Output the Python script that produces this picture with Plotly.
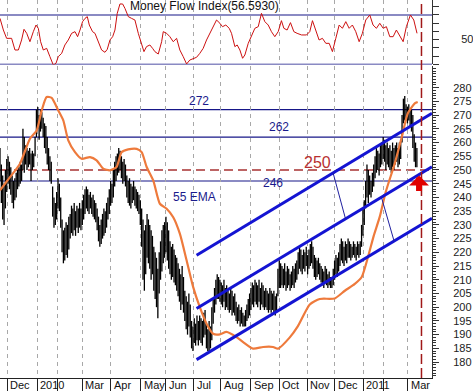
import plotly.graph_objects as go

# ---------------- data ----------------
day_high = [
    258, 252, 248, 245, 250, 254, 255, 253, 251, 248,
    246, 247, 249, 250, 251, 253, 252, 265, 262, 259,
    258, 257, 258, 256, 257, 256, 262, 272, 273, 270,
    272, 271, 269, 267, 266, 262, 258, 255, 253, 244,
    240, 238, 242, 247, 245, 240, 232, 228, 229, 231,
    230, 233, 234, 237, 236, 238, 235, 237, 236, 238,
    236, 239, 241, 243, 244, 243, 241, 242, 240, 241,
    239, 238, 236, 233, 230, 232, 234, 236, 235, 238,
    240, 243, 246, 245, 250, 253, 255, 256, 258, 257,
    255, 253, 254, 252, 248, 246, 247, 245, 244, 246,
    244, 243, 242, 241, 239, 236, 232, 228, 230, 234,
    232, 230, 228, 226, 222, 220, 218, 214, 220, 224,
    228, 230, 231, 233, 231, 228, 224, 222, 223, 221,
    219, 218, 216, 214, 212, 215, 211, 206, 204, 202,
    205, 201, 195, 193, 196, 194, 197, 195, 197, 196,
    195, 198, 199, 194, 192, 195, 193, 200, 203, 207,
    210, 212, 211, 210, 209, 208, 210, 207, 208, 206,
    205, 207, 206, 204, 205, 202, 200, 201, 199, 200,
    198, 197, 199, 201, 203, 205, 207, 209, 208, 210,
    209, 208, 210, 207, 209, 208, 206, 207, 206, 205,
    207, 206, 205, 206, 204, 205, 214, 217, 216, 215,
    214, 216, 213, 215, 214, 212, 213, 215, 214, 216,
    217, 220, 222, 221, 219, 221, 220, 222, 219, 221,
    223, 224, 222, 219, 218, 217, 218, 216, 215, 214,
    213, 215, 214, 212, 213, 211, 210, 214, 217, 219,
    218, 220, 223, 225, 224, 222, 224, 223, 225, 224,
    223, 222, 224, 223, 222, 224, 223, 224, 230, 236,
    239, 246, 252, 250, 248, 246, 249, 252, 255, 258,
    257, 256, 259, 260, 262, 261, 259, 260, 258, 259,
    257, 260, 258, 259, 260, 258, 260, 261, 270, 276,
    277, 274, 273, 274, 272, 272, 270, 263, 260, 258,
]
day_low = [
    246, 238, 232, 230, 236, 242, 245, 243, 241, 238,
    236, 239, 240, 243, 244, 245, 246, 250, 249, 252,
    250, 251, 252, 246, 250, 251, 255, 262, 265, 261,
    264, 265, 262, 258, 256, 252, 250, 246, 245, 233,
    229, 230, 232, 236, 235, 229, 220, 216, 217, 219,
    218, 221, 225, 227, 226, 228, 226, 229, 227, 229,
    228, 230, 232, 234, 236, 235, 234, 236, 234, 233,
    232, 231, 228, 224, 222, 223, 225, 226, 227, 229,
    232, 234, 237, 238, 240, 244, 246, 248, 249, 250,
    247, 245, 246, 244, 240, 238, 237, 236, 238, 239,
    237, 236, 235, 234, 230, 222, 210, 206, 212, 218,
    216, 214, 210, 212, 206, 203, 200, 196, 205, 210,
    213, 216, 218, 220, 217, 214, 212, 210, 211, 209,
    208, 206, 204, 202, 199, 201, 198, 195, 192, 190,
    193, 189, 185, 184, 187, 186, 188, 186, 188, 187,
    186, 189, 190, 185, 184, 184, 185, 188, 194, 198,
    201, 203, 203, 202, 201, 200, 202, 199, 200, 199,
    198, 199, 197, 198, 197, 195, 194, 195, 193, 194,
    193, 193, 193, 195, 196, 197, 199, 201, 200, 202,
    201, 200, 202, 199, 201, 200, 199, 200, 199, 198,
    199, 198, 199, 198, 197, 198, 204, 207, 207, 208,
    207, 208, 206, 207, 208, 206, 207, 208, 207, 209,
    210, 212, 214, 213, 212, 214, 213, 215, 212, 214,
    215, 216, 214, 211, 210, 211, 212, 210, 209, 208,
    207, 209, 208, 207, 208, 207, 207, 208, 210, 212,
    211, 213, 215, 217, 216, 215, 217, 216, 218, 218,
    217, 218, 219, 218, 217, 219, 218, 219, 222, 226,
    230, 236, 240, 238, 241, 240, 242, 244, 247, 249,
    250, 248, 251, 252, 254, 253, 250, 252, 251, 250,
    249, 251, 250, 252, 253, 251, 252, 254, 260, 267,
    268, 268, 267, 268, 266, 264, 258, 253, 251, 251,
]

ema_day = [0, 7.4, 14.8, 22.2, 27.2, 30.9, 34.6, 38.3, 43.2, 46.9, 50.6, 55.6,
           60.5, 66.7, 71.6, 76.5, 81.5, 86.4, 90.1, 95, 101.3, 105, 108.7,
           113.6, 118.5, 123.5, 128.4, 133.3, 138.3, 143.2, 148.1, 153.1, 158,
           163, 167.9, 175.3, 180.2, 187.6, 195, 202.4, 206.1, 214.8, 220.7,
           229.6, 237, 248.1, 255.6, 263, 268.1, 272.6, 277, 281.5, 285.9,
           292.6, 297.8, 302.2, 307.4, 309.6]
ema_val = [242.6, 247.4, 252.3, 261.4, 264.4, 271.7, 276.6, 276.3, 271.7, 268.1,
           260.8, 256.5, 254.1, 254.7, 253.5, 250.5, 249.9, 251.1, 256.5, 257.5,
           257.7, 256.5, 251.1, 246.2, 237.7, 235.9, 232.8, 226.8, 217.1, 207.3,
           200.0, 194.0, 190.3, 190.1, 191.0, 189.1, 187.3, 184.9, 185.5, 185.5,
           184.9, 189.0, 193.0, 201.0, 203.0, 203.2, 206.0, 208.5, 211.0, 218.0,
           226.0, 233.0, 242.0, 252.4, 262.0, 270.6, 274.3, 274.8]

mfi_day = [0, 2.5, 4.9, 8.6, 11.1, 13.6, 16.0, 17.8, 19.8, 22.2, 24.7, 26.7, 28.4,
           30.1, 32.1, 34.6, 37.0, 39.5, 41.5, 43.2, 45.7, 48.1, 50.6, 53.1, 55.6,
           57.5, 59.3, 61.2, 63.0, 64.7, 66.2, 68.6, 70.4, 72.8, 75.3, 77.8, 79.5,
           81.5, 83.5, 85.2, 86.9, 88.9, 90.9, 92.6, 95.1, 97.5, 100.0, 102.5,
           104.9, 106.7, 108.6, 111.1, 113.1, 114.8, 117.3, 119.8, 121.0, 123.5,
           125.9, 128.4, 130.9, 133.3, 135.8, 138.3, 140.7, 143.2, 145.7, 148.1,
           150.6, 153.1, 155.6, 158.0, 160.5, 163.0, 164.9, 167.4, 169.9, 171.6,
           174.1, 175.8, 177.8, 179.8, 181.5, 184.0, 186.4, 188.9, 191.4, 193.8,
           196.3, 198.8, 201.2, 203.7, 206.2, 208.6, 210.4, 212.8, 215.3, 217.8,
           220.2, 223.5, 227.2, 229.6, 231.6, 234.1, 236.5, 239.0, 241.5, 244.0,
           246.4, 248.9, 251.4, 253.8, 256.3, 258.8, 261.2, 263.7, 266.2, 268.6,
           271.1, 274.1, 276.5, 279.0, 281.5, 284.0, 286.4, 288.9, 291.4, 293.8,
           296.3, 298.8, 301.2, 304.2, 306.7, 309.1]
mfi_val = [75.9, 61.7, 51.6, 51.6, 37.4, 37.4, 49.6, 62.6, 57.7, 47.5, 59.7, 67.8,
           63.8, 47.5, 37.4, 39.4, 29.3, 19.1, 21.2, 29.3, 33.3, 43.5, 49.6, 57.7,
           59.7, 53.6, 61.7, 71.9, 75.9, 78.0, 67.8, 59.7, 57.7, 47.5, 37.4, 34.6,
           38.2, 49.6, 53.6, 61.7, 82.0, 93.4, 93.4, 88.1, 78.0, 75.9, 73.9, 57.7,
           45.5, 35.4, 41.5, 43.5, 39.4, 35.4, 32.5, 47.5, 59.7, 57.7, 53.6, 47.5,
           51.6, 37.4, 29.3, 20.4, 25.2, 27.3, 28.5, 33.3, 39.4, 49.6, 57.7, 63.8,
           73.9, 69.9, 65.8, 67.8, 63.8, 57.7, 41.5, 43.5, 37.4, 27.3, 31.3, 45.5,
           53.6, 63.8, 65.8, 82.0, 71.9, 67.8, 59.7, 53.6, 59.7, 73.1, 63.8, 61.7,
           70.7, 59.7, 57.7, 55.7, 55.7, 59.7, 73.1, 61.7, 49.6, 51.6, 45.5, 45.5,
           35.4, 51.6, 67.8, 63.8, 71.9, 63.8, 67.8, 59.7, 47.5, 57.7, 73.9, 80.0,
           67.8, 63.8, 69.9, 63.8, 65.8, 53.6, 53.6, 61.7, 53.6, 47.5, 65.8, 80.0,
           73.9, 57.7]

month_day = [5.4, 27.6, 42.4, 61.0, 82.2, 104.2, 122.7, 143.7, 163.7, 185.7,
             206.9, 227.6, 248.1, 269.1, 283.9, 302.4]
month_label = ["Dec", "2010", "", "Mar", "Apr", "May", "Jun", "Jul", "Aug",
               "Sep", "Oct", "Nov", "Dec", "2011", "", "Mar"]

price_ticks = list(range(180, 281, 5))
mfi_ticks = [20, 30, 40, 50, 60, 70, 80, 90]
mfi_ticktext = ["", "", "", "50", "", "", "", ""]

h_levels = [272, 262, 246]
dash_level = 250
mfi_levels = [80, 20]

channel_day = [145.7, 320.2]
channel_upper = [218.9, 270.7]
channel_mid = [199.5, 251.2]
channel_low = [180.9, 232.4]
link1_day = [246.9, 256.1]
link1_val = [248.9, 232.2]
link2_day = [282.7, 292.1]
link2_val = [240.1, 224.1]

marker_day = 312.4
arrow_day = 310.6
arrow_tip = 248.0

label_text = ["272", "262", "250", "246", "55 EMA"]
label_day = [147.4, 206.9, 235.3, 202.0, 144.4]
label_val = [275.1, 265.6, 252.9, 245.2, 240.1]
label_color = ["#1a1a8c", "#1a1a8c", "#b83030", "#1a1a8c", "#1a1a8c"]
label_size = [12, 12, 16, 12, 12]

# ---------------- figure ----------------
NAVY = "#161688"
FONT = "Arial"

fig = go.Figure()

# price bars (high-low)
bx, by = [], []
for i, (hi, lo) in enumerate(zip(day_high, day_low)):
    bx += [i, i, None]
    by += [lo, hi, None]
fig.add_trace(go.Scatter(x=bx, y=by, mode="lines", line=dict(color="black", width=1.3),
                         hoverinfo="skip", showlegend=False))

# EMA
fig.add_trace(go.Scatter(x=ema_day, y=ema_val, mode="lines",
                         line=dict(color="#ee7a3c", width=2.2, shape="spline", smoothing=0.6),
                         showlegend=False))

# channels
for vals in (channel_upper, channel_mid, channel_low):
    fig.add_trace(go.Scatter(x=channel_day, y=vals, mode="lines",
                             line=dict(color="#1414d2", width=3), showlegend=False))
for dx, dv in ((link1_day, link1_val), (link2_day, link2_val)):
    fig.add_trace(go.Scatter(x=dx, y=dv, mode="lines",
                             line=dict(color="#2020a0", width=1), showlegend=False))

# MFI
fig.add_trace(go.Scatter(x=mfi_day, y=mfi_val, mode="lines", yaxis="y2",
                         line=dict(color="#cc1010", width=1), showlegend=False))

shapes = []
for lv in h_levels:
    shapes.append(dict(type="line", xref="paper", x0=0, x1=1, yref="y", y0=lv, y1=lv,
                       line=dict(color=NAVY, width=1.2), layer="below"))
shapes.append(dict(type="line", xref="paper", x0=0, x1=1, yref="y", y0=dash_level, y1=dash_level,
                   line=dict(color="#a83232", width=1.5, dash="9px,5px"), layer="below"))
for lv in mfi_levels:
    shapes.append(dict(type="line", xref="paper", x0=0, x1=1, yref="y2", y0=lv, y1=lv,
                       line=dict(color=NAVY, width=1.2), layer="below"))
shapes.append(dict(type="line", xref="x", x0=marker_day, x1=marker_day, yref="paper", y0=0, y1=1,
                   line=dict(color="#a01818", width=1.5, dash="10px,4px")))

annotations = []
for t, d, v, c, s in zip(label_text, label_day, label_val, label_color, label_size):
    annotations.append(dict(x=d, y=v, xref="x", yref="y", text=t, showarrow=False,
                            font=dict(family=FONT, size=s, color=c)))
annotations.append(dict(x=94.6, y=90.5, xref="x", yref="y2", text="Money Flow Index(56.5930)",
                        showarrow=False, xanchor="left",
                        font=dict(family=FONT, size=12, color="#111")))
for d, lab in zip(month_day, month_label):
    if lab:
        annotations.append(dict(x=d, y=0, xref="x", yref="paper", text=lab, showarrow=False,
                                xanchor="left", yanchor="top", xshift=1, yshift=1,
                                font=dict(family=FONT, size=11, color="#111")))
annotations.append(dict(x=arrow_day, y=arrow_tip, xref="x", yref="y", ax=0, ay=17,
                        axref="pixel", ayref="pixel", text="", showarrow=True,
                        arrowhead=1, arrowwidth=6, arrowsize=0.55, arrowcolor="#e00000"))

fig.update_layout(
    width=473, height=391,
    margin=dict(l=0, r=41, t=0, b=13),
    paper_bgcolor="white", plot_bgcolor="white",
    showlegend=False,
    shapes=shapes, annotations=annotations,
    xaxis=dict(range=[0, 320.2], tickmode="array", tickvals=month_day, showticklabels=False,
               ticks="outside", ticklen=13, tickcolor="#222", showgrid=True,
               gridcolor="#a8a8a8", griddash="4px,4px", gridwidth=1,
               showline=True, linecolor="#222", zeroline=False, fixedrange=True),
    yaxis=dict(domain=[0, 0.8254], range=[174.2, 287.9], side="right", anchor="x",
               tickmode="array", tickvals=price_ticks, ticks="outside", ticklen=6,
               tickcolor="#333", showline=True, linecolor="#333", showgrid=False,
               zeroline=False, ticklabelstandoff=12,
               tickfont=dict(family=FONT, size=11, color="#222"),
               minor=dict(tickmode="linear", tick0=0, dtick=1, ticks="outside", ticklen=3,
                          tickcolor="#333", showgrid=False)),
    yaxis2=dict(domain=[0.8294, 1], range=[19.76, 98.25], side="right", anchor="x",
                tickmode="array", tickvals=mfi_ticks, ticktext=mfi_ticktext,
                ticks="outside", ticklen=6, tickcolor="#333", showline=True,
                linecolor="#333", showgrid=False, zeroline=False, ticklabelstandoff=20,
                tickfont=dict(family=FONT, size=11, color="#222")),
)

fig.write_html("out.html", config={"displayModeBar": False},
               post_script="document.body.style.margin='0';document.body.style.overflow='hidden';")
